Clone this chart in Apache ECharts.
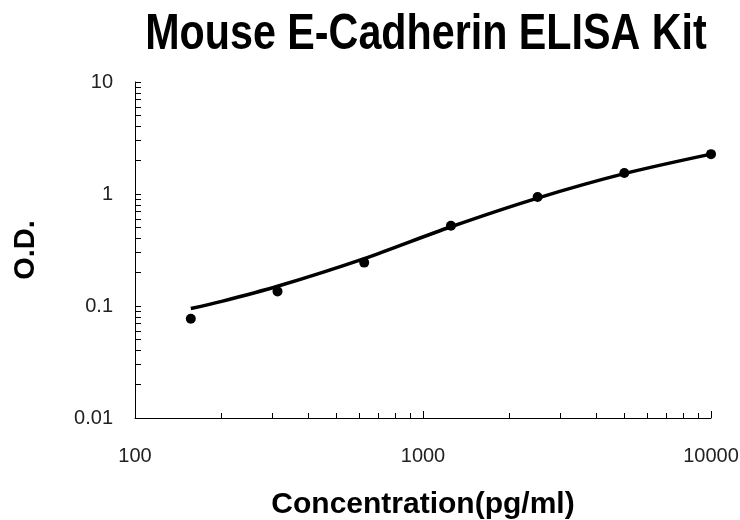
<!DOCTYPE html>
<html lang="en">
<head>
    <meta charset="UTF-8">
    <title>Mouse E-Cadherin ELISA Kit</title>
    <script src="https://cdn.jsdelivr.net/npm/echarts@6/dist/echarts.min.js"></script>
    <style>
        html, body { margin: 0; padding: 0; background: #fff; }
    </style>
</head>
<body>
<div id="main" style="width: 740px;height:520px;"></div>
<script type="text/javascript">
    // standard points (concentration pg/ml, O.D.)
    var concentrations = [156.25, 312.5, 625, 1250, 2500, 5000, 10000];
    var odValues = [0.077, 0.135, 0.244, 0.52, 0.94, 1.54, 2.27];
    // fitted curve
    var curveConc = [156.25, 200, 312.5, 625, 1250, 2500, 5000, 10000];
    var curveOd = [0.095, 0.11, 0.15, 0.265, 0.51, 0.92, 1.52, 2.27];
    // minor tick positions
    var xMinorTicks = [200, 300, 400, 500, 600, 700, 800, 900, 2000, 3000, 4000, 5000, 6000, 7000, 8000, 9000];
    var yMinorTicks = [0.02, 0.03, 0.04, 0.05, 0.06, 0.07, 0.08, 0.09, 0.2, 0.3, 0.4, 0.5, 0.6, 0.7, 0.8, 0.9, 2, 3, 4, 5, 6, 7, 8, 9];

    var font = '"Liberation Sans", Arial, sans-serif';

    function pairs(xs, ys) {
        return xs.map(function (x, i) { return [x, ys[i]]; });
    }

    var myChart = echarts.init(document.getElementById('main'));
    myChart.setOption({
        animation: false,
        // title squeezed horizontally to look like a narrow bold face
        graphic: [{
            type: 'text',
            x: 426,
            y: 35,
            scaleX: 0.825,
            style: {
                text: 'Mouse E-Cadherin ELISA Kit',
                font: 'bold 50px ' + font,
                fill: '#000',
                align: 'center',
                verticalAlign: 'middle'
            }
        }],
        grid: { left: 135, right: 29, top: 82, bottom: 102, outerBoundsMode: 'none' },
        xAxis: [{
            type: 'log',
            min: 100,
            max: 10000,
            logBase: 10,
            name: 'Concentration(pg/ml)',
            nameLocation: 'middle',
            nameGap: 72,
            nameTextStyle: { fontFamily: font, fontSize: 30, fontWeight: 'bold', color: '#000' },
            axisLine: { lineStyle: { color: '#000', width: 1 } },
            axisTick: { inside: true, length: 7, lineStyle: { color: '#000' } },
            axisLabel: {
                fontFamily: font, fontSize: 20, color: '#222', margin: 28,
                formatter: function (v) { return String(v); }
            },
            splitLine: { show: false }
        }, {
            type: 'log',
            min: 100,
            max: 10000,
            position: 'bottom',
            axisLine: { show: false },
            axisTick: { inside: true, length: 5, customValues: xMinorTicks, lineStyle: { color: '#000' } },
            axisLabel: { show: false },
            splitLine: { show: false }
        }],
        yAxis: [{
            type: 'log',
            min: 0.01,
            max: 10,
            name: 'O.D.',
            nameLocation: 'middle',
            nameGap: 95,
            nameTextStyle: { fontFamily: font, fontSize: 29, fontWeight: 'bold', color: '#000' },
            axisLine: { show: true, lineStyle: { color: '#000', width: 1 } },
            axisTick: { show: true, inside: true, length: 6, lineStyle: { color: '#000' } },
            axisLabel: {
                fontFamily: font, fontSize: 20, color: '#222', margin: 22,
                formatter: function (v) { return String(v); }
            },
            splitLine: { show: false }
        }, {
            type: 'log',
            min: 0.01,
            max: 10,
            position: 'left',
            axisLine: { show: false },
            axisTick: { show: true, inside: true, length: 6, customValues: yMinorTicks, lineStyle: { color: '#000' } },
            axisLabel: { show: false },
            splitLine: { show: false }
        }],
        series: [{
            name: 'curve',
            type: 'line',
            data: pairs(curveConc, curveOd),
            smooth: 0.3,
            showSymbol: false,
            lineStyle: { color: '#000', width: 3.5 }
        }, {
            name: 'standards',
            type: 'scatter',
            data: pairs(concentrations, odValues),
            symbolSize: 10,
            itemStyle: { color: '#000', opacity: 1 }
        }]
    });
</script>
</body>
</html>
